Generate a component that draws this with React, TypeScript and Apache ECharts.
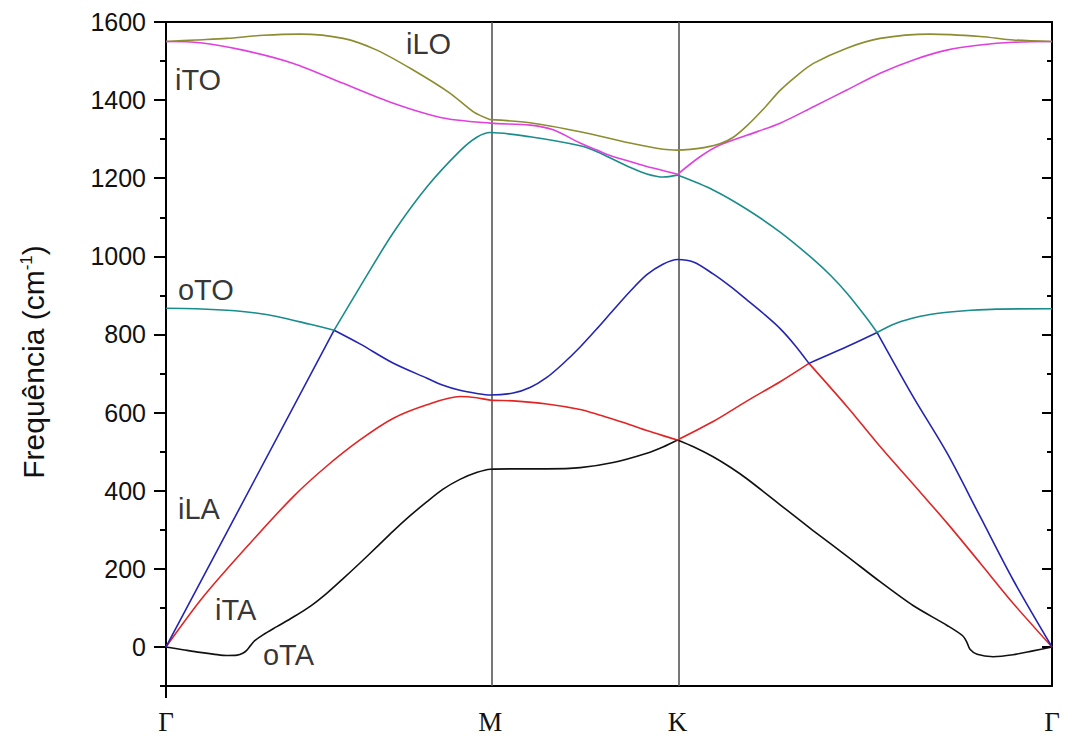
import React, { useEffect, useRef } from 'react';
import * as echarts from 'echarts';

// Path coordinate: Γ = 0, M = √3/2, K = √3/2 + 1/2, Γ = √3/2 + 3/2
const K_M = 0.866;
const K_K = 1.366;
const K_END = 2.366;
const X_TICK_POSITIONS = [0, K_M, K_K, K_END];
const X_TICK_LABELS = ['Γ', 'M', 'K', 'Γ'];
const Y_MAJOR = [0, 200, 400, 600, 800, 1000, 1200, 1400, 1600];

type Pt = [number, number];

// Band 1 (black)
const BAND1: Pt[][] = [
  [[0, 0], [0.045, -7], [0.091, -14], [0.130, -19], [0.163, -22], [0.190, -21], [0.205, -16], [0.216, -8], [0.226, 4], [0.237, 16], [0.259, 31], [0.296, 52], [0.339, 76], [0.385, 104], [0.430, 138], [0.473, 175], [0.518, 215], [0.563, 256], [0.606, 296], [0.652, 336], [0.697, 372], [0.740, 404], [0.785, 429], [0.831, 447], [0.866, 455], [0.927, 456], [1.017, 456], [1.106, 459], [1.194, 472], [1.284, 496], [1.327, 512], [1.366, 530]],
  [[1.366, 530], [1.410, 512], [1.461, 487], [1.507, 460], [1.552, 430], [1.640, 364], [1.728, 298], [1.819, 232], [1.907, 167], [1.995, 106], [2.086, 55], [2.128, 28], [2.139, 11], [2.147, -6], [2.166, -19], [2.209, -25], [2.262, -20], [2.315, -10], [2.366, 0]],
];
// Band 2 (red)
const BAND2: Pt[][] = [
  [[0, 0], [0.100, 129], [0.224, 265], [0.340, 385], [0.428, 462], [0.518, 530], [0.606, 585], [0.697, 620], [0.785, 641], [0.830, 638], [0.866, 632], [0.927, 630], [1.017, 622], [1.106, 608], [1.151, 596], [1.194, 583], [1.239, 569], [1.284, 554], [1.327, 541], [1.366, 530]],
  [[1.366, 530], [1.461, 577], [1.552, 630], [1.640, 679], [1.717, 726]],
  [[1.717, 726], [1.819, 615], [1.907, 513], [1.995, 417], [2.086, 317], [2.174, 215], [2.262, 112], [2.366, 0]],
];
// Band 3 (blue)
const BAND3: Pt[][] = [
  [[0, 0], [0.449, 811]],
  [[0.449, 811], [0.518, 776], [0.606, 727], [0.697, 688], [0.740, 670], [0.785, 657], [0.830, 649], [0.866, 645], [0.927, 650], [0.972, 664], [1.017, 690], [1.060, 725], [1.106, 768], [1.151, 815], [1.194, 862], [1.239, 910], [1.284, 953], [1.327, 980], [1.366, 992], [1.410, 985], [1.461, 955], [1.507, 923], [1.552, 888], [1.596, 853], [1.640, 815], [1.680, 772], [1.717, 726]],
  [[1.717, 726], [1.819, 769], [1.899, 805]],
  [[1.899, 805], [1.995, 641], [2.086, 496], [2.174, 334], [2.262, 172], [2.366, 0]],
];
// Band 4 (teal)
const BAND4: Pt[][] = [
  [[0, 867], [0.080, 866], [0.163, 862], [0.240, 855], [0.296, 846], [0.385, 826], [0.449, 811]],
  [[0.449, 811], [0.518, 922], [0.606, 1059], [0.697, 1178], [0.785, 1270], [0.830, 1305], [0.866, 1317], [0.972, 1306], [1.106, 1283], [1.151, 1268], [1.195, 1248], [1.239, 1228], [1.284, 1211], [1.328, 1203], [1.366, 1208]],
  [[1.366, 1208], [1.461, 1170], [1.552, 1120], [1.640, 1062], [1.728, 993], [1.775, 951], [1.819, 905], [1.872, 841], [1.899, 805]],
  [[1.899, 805], [1.940, 825], [1.995, 842], [2.040, 851], [2.086, 857], [2.150, 862], [2.219, 865], [2.366, 866]],
];
// Band 5 (magenta)
const BAND5: Pt[][] = [
  [[0, 1550], [0.091, 1547], [0.206, 1528], [0.340, 1494], [0.473, 1443], [0.607, 1392], [0.740, 1354], [0.866, 1341], [0.972, 1336], [1.034, 1324], [1.106, 1290], [1.151, 1272], [1.195, 1255], [1.239, 1243], [1.284, 1230], [1.327, 1220], [1.366, 1210]],
  [[1.366, 1210], [1.426, 1255], [1.479, 1285], [1.551, 1310], [1.640, 1341], [1.729, 1383], [1.818, 1426], [1.907, 1469], [1.996, 1503], [2.085, 1528], [2.174, 1541], [2.263, 1548], [2.366, 1550]],
];
// Band 6 (olive)
const BAND6: Pt[][] = [
  [[0, 1550], [0.080, 1554], [0.162, 1558], [0.260, 1566], [0.358, 1569], [0.473, 1558], [0.563, 1528], [0.660, 1477], [0.758, 1418], [0.821, 1370], [0.866, 1350]],
  [[0.866, 1350], [0.972, 1342], [1.106, 1319], [1.239, 1290], [1.328, 1274], [1.366, 1272], [1.400, 1274], [1.440, 1279], [1.479, 1288], [1.515, 1305], [1.551, 1334], [1.596, 1378], [1.640, 1425], [1.685, 1463], [1.729, 1494], [1.818, 1533], [1.907, 1558], [2.040, 1569], [2.174, 1563], [2.263, 1554], [2.366, 1550]],
];

const BANDS = [BAND1, BAND2, BAND3, BAND4, BAND5, BAND6];
const BAND_COLORS = ['#111111', '#e32424', '#2424b4', '#1a8c8c', '#e040e0', '#8c8c30'];

// Mode labels: [k, frequency, text]
const MODE_LABELS: [number, number, string][] = [
  [0.641, 1544, 'iLO'],
  [0.024, 1452, 'iTO'],
  [0.032, 914, 'oTO'],
  [0.032, 353, 'iLA'],
  [0.131, 95, 'iTA'],
  [0.259, -20, 'oTA'],
];

const SANS = '"Liberation Sans", Arial, sans-serif';
const SERIF = '"Liberation Serif", "Times New Roman", serif';

function joinSegments(segs: Pt[][]): any[] {
  const out: any[] = [];
  segs.forEach((s, i) => {
    if (i > 0) out.push([s[0][0], '-']);
    s.forEach((p) => out.push(p));
  });
  return out;
}

export default function App() {
  const ref = useRef<HTMLDivElement>(null);
  useEffect(() => {
    const chart = echarts.init(ref.current!, null, { renderer: 'svg' });
    const axisLineStyle = { color: '#000', width: 2 };
    const yBase = { type: 'value', min: -100, max: 1600, splitLine: { show: false } };
    const xBase = { type: 'value', min: 0, max: K_END, splitLine: { show: false } };

    const lineSeries = BANDS.map((segs, i) => ({
      type: 'line',
      data: joinSegments(segs),
      showSymbol: false,
      smooth: 0.3,
      connectNulls: false,
      lineStyle: { color: BAND_COLORS[i], width: 1.6 },
      itemStyle: { color: BAND_COLORS[i] },
      silent: true,
      z: 3,
      markLine:
        i === 0
          ? {
              silent: true,
              symbol: 'none',
              label: { show: false },
              lineStyle: { color: '#555', width: 1.6, type: 'solid' },
              data: [{ xAxis: K_M }, { xAxis: K_K }],
              z: 1,
            }
          : undefined,
    }));

    chart.setOption({
      animation: false,
      backgroundColor: '#fff',
      textStyle: { fontFamily: SANS },
      grid: { left: 166, right: 18, top: 22, bottom: 57, containLabel: false },
      xAxis: [
        {
          ...xBase,
          position: 'bottom',
          axisLine: { show: true, onZero: false, lineStyle: axisLineStyle },
          axisTick: { show: true, customValues: [0], length: 12, inside: false, lineStyle: { width: 2, color: '#000' } },
          axisLabel: {
            show: true,
            customValues: X_TICK_POSITIONS,
            margin: 22,
            fontSize: 27,
            fontFamily: SERIF,
            color: '#111',
            showMinLabel: true,
            showMaxLabel: true,
            formatter: (v: number) => {
              const idx = X_TICK_POSITIONS.findIndex((p) => Math.abs(p - v) < 1e-6);
              return idx >= 0 ? X_TICK_LABELS[idx] : '';
            },
          },
        },
        {
          ...xBase,
          position: 'top',
          axisLine: { show: true, onZero: false, lineStyle: axisLineStyle },
          axisTick: { show: false },
          axisLabel: { show: false },
        },
      ],
      yAxis: [
        {
          ...yBase,
          position: 'left',
          interval: 100,
          axisLine: { show: true, onZero: false, lineStyle: axisLineStyle },
          axisTick: { show: true, length: 6, inside: false, lineStyle: { width: 2, color: '#000' } },
          axisLabel: {
            show: true,
            margin: 20,
            fontSize: 25,
            color: '#111',
            fontFamily: SANS,
            formatter: (v: number) => (v >= 0 && v % 200 === 0 ? String(v) : ''),
          },
        },
        {
          ...yBase,
          position: 'left',
          axisLine: { show: false, onZero: false },
          axisTick: { show: true, customValues: Y_MAJOR, length: 12, inside: false, lineStyle: { width: 2, color: '#000' } },
          axisLabel: { show: false },
        },
        {
          ...yBase,
          position: 'right',
          interval: 100,
          axisLine: { show: true, onZero: false, lineStyle: axisLineStyle },
          axisTick: { show: true, length: 5, inside: true, lineStyle: { width: 2, color: '#000' } },
          axisLabel: { show: false },
        },
        {
          ...yBase,
          position: 'right',
          axisLine: { show: false, onZero: false },
          axisTick: { show: true, customValues: Y_MAJOR, length: 10, inside: true, lineStyle: { width: 2, color: '#000' } },
          axisLabel: { show: false },
        },
      ],
      series: [
        ...lineSeries,
        {
          type: 'scatter',
          data: MODE_LABELS,
          symbolSize: 0,
          silent: true,
          z: 5,
          label: {
            show: true,
            position: 'right',
            distance: 0,
            fontSize: 29,
            fontFamily: SANS,
            color: '#000',
            textBorderWidth: 0,
            formatter: (p: any) => p.value[2],
          },
        },
      ],
      graphic: [
        {
          type: 'text',
          x: 33,
          y: 362,
          rotation: Math.PI / 2,
          style: {
            text: 'Frequência (cm{sup|-1})',
            fontSize: 30,
            fontFamily: SANS,
            fill: '#111',
            align: 'center',
            verticalAlign: 'middle',
            rich: {
              sup: { fontSize: 17, fontFamily: SANS, fill: '#111', verticalAlign: 'top', padding: [0, 0, 14, 0] },
            },
          },
        },
      ],
    });
    return () => chart.dispose();
  }, []);
  return (
    <div
      ref={ref}
      style={{ position: 'fixed', left: 0, top: 0, width: 1070, height: 743, background: '#fff' }}
    />
  );
}
